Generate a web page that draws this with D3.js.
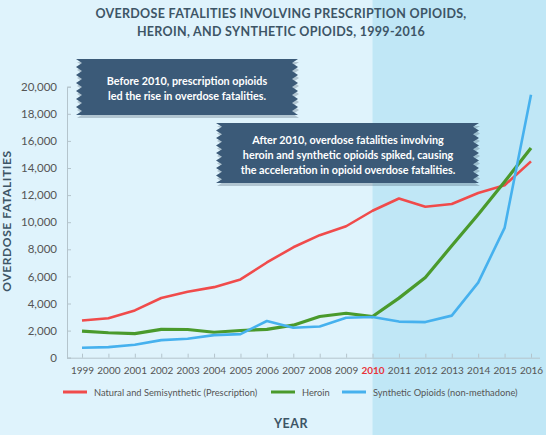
<!DOCTYPE html>
<html>
<head>
<meta charset="utf-8">
<script src="https://cdn.jsdelivr.net/npm/d3@7"></script>
<style>
  body { margin: 0; padding: 0; overflow: hidden; }
  text { font-family: Lato, "Open Sans", sans-serif; }
</style>
</head>
<body>
<div class="chart"></div>
<script>
var years = [1999, 2000, 2001, 2002, 2003, 2004, 2005, 2006, 2007, 2008,
  2009, 2010, 2011, 2012, 2013, 2014, 2015, 2016];
var prescription = [2749, 2917, 3491, 4408, 4867, 5208, 5780, 7027, 8151, 9042,
  9701, 10845, 11749, 11140, 11346, 12159, 12727, 14487];
var heroin = [1960, 1842, 1779, 2089, 2080, 1878, 2009, 2088, 2399, 3041,
  3278, 3036, 4397, 5925, 8257, 10574, 12989, 15469];
var synthetic = [730, 782, 957, 1295, 1400, 1664, 1742, 2707, 2213, 2306,
  2946, 3007, 2666, 2628, 3105, 5544, 9580, 19413];
var yTicks = [0, 2000, 4000, 6000, 8000, 10000, 12000, 14000, 16000, 18000, 20000];
var seriesNames = ["Natural and Semisynthetic (Prescription)", "Heroin", "Synthetic Opioids (non-methadone)"];
var seriesColors = ["#f04b4b", "#4a9a2c", "#46b1ee"];
var titleLines = ["OVERDOSE FATALITIES INVOLVING PRESCRIPTION OPIOIDS,", "HEROIN, AND SYNTHETIC OPIOIDS, 1999-2016"];
var note1 = ["Before 2010, prescription opioids", "led the rise in overdose fatalities."];
var note2 = ["After 2010, overdose fatalities involving", "heroin and synthetic opioids spiked, causing", "the acceleration in opioid overdose fatalities."];

var width = 546, height = 435;
var svg = d3.select(".chart").append("svg")
  .attr("width", width)
  .attr("height", height);

var x = d3.scaleLinear().domain([1999, 2016]).range([82, 531]);
var y = d3.scaleLinear().domain([0, 20000]).range([357.7, 86.7]);

// background + shaded period after 2010
svg.append("rect").attr("width", width).attr("height", height).attr("fill", "#dff3fc");
svg.append("rect")
  .attr("x", x(2010)).attr("y", 0)
  .attr("width", width - x(2010)).attr("height", height)
  .attr("fill", "#c0e7f6");

// title
svg.selectAll(".title").data(titleLines).enter().append("text")
  .attr("class", "title")
  .attr("x", 281).attr("y", function(d, i) { return 18 + i * 18; })
  .attr("text-anchor", "middle")
  .attr("fill", "#3d5566")
  .attr("font-size", 12.5)
  .attr("font-weight", "bold")
  .attr("letter-spacing", 0.3)
  .text(function(d) { return d; });

// axes
var yAxis = svg.append("g")
  .attr("transform", "translate(67,0)")
  .call(d3.axisLeft(y).tickValues(yTicks).tickSize(-4).tickPadding(10).tickFormat(d3.format(",")));
var xAxis = svg.append("g")
  .attr("transform", "translate(0," + y(0) + ")")
  .call(d3.axisBottom(x).tickValues(years).tickSize(-4).tickPadding(9).tickFormat(d3.format("d")));

[yAxis, xAxis].forEach(function(a) {
  a.select(".domain").attr("stroke", "#b4c4cc");
  a.selectAll(".tick line").attr("stroke", "#b4c4cc");
  a.selectAll(".tick text").attr("fill", "#555").attr("font-family", "Lato, sans-serif");
});
yAxis.selectAll(".tick text").attr("font-size", 11.5);
xAxis.selectAll(".tick text").attr("font-size", 10);
xAxis.select(".domain").attr("d", "M67,0.5H540");
xAxis.selectAll(".tick text")
  .filter(function(d) { return d === 2010; })
  .attr("fill", "#e8333a").attr("font-weight", "bold");

// axis titles
svg.append("text")
  .attr("transform", "translate(11,221) rotate(-90)")
  .attr("text-anchor", "middle")
  .attr("fill", "#3d5566")
  .attr("font-size", 12)
  .attr("font-weight", "bold")
  .attr("letter-spacing", 0.6)
  .text("OVERDOSE FATALITIES");
svg.append("text")
  .attr("x", 291).attr("y", 428)
  .attr("text-anchor", "middle")
  .attr("fill", "#3d5566")
  .attr("font-size", 12.5)
  .attr("font-weight", "bold")
  .attr("letter-spacing", 0.5)
  .text("YEAR");

// lines
var line = d3.line()
  .x(function(d, i) { return x(years[i]); })
  .y(function(d) { return y(d); });
[prescription, heroin, synthetic].forEach(function(s, i) {
  svg.append("path")
    .attr("d", line(s))
    .attr("fill", "none")
    .attr("stroke", seriesColors[i])
    .attr("stroke-width", i === 1 ? 3.2 : 2.6)
    .attr("stroke-linejoin", "round");
});

// legend
var legendX = [63, 271, 342];
seriesNames.forEach(function(name, i) {
  svg.append("line")
    .attr("x1", legendX[i]).attr("x2", legendX[i] + 24)
    .attr("y1", 392).attr("y2", 392)
    .attr("stroke", seriesColors[i]).attr("stroke-width", 3);
  svg.append("text")
    .attr("x", legendX[i] + 31).attr("y", 395.5)
    .attr("fill", "#555")
    .attr("font-size", 9.3)
    .text(name);
});

// notched banner callouts
function banner(x0, y0, w, h, lines, cx, firstY) {
  var teeth = Math.round(h / 8), th = h / teeth, depth = 6;
  var pts = [[x0, y0], [x0 + w, y0]];
  for (var k = 0; k < teeth; k++) {
    pts.push([x0 + w - depth, y0 + k * th + th / 2]);
    pts.push([x0 + w, y0 + (k + 1) * th]);
  }
  pts.push([x0, y0 + h]);
  for (var k = teeth - 1; k >= 0; k--) {
    pts.push([x0 + depth, y0 + k * th + th / 2]);
    pts.push([x0, y0 + k * th]);
  }
  svg.append("polygon")
    .attr("points", pts.map(function(p) { return [p[0] + 1, p[1] + 3]; }).join(" "))
    .attr("fill", "rgba(40,60,80,0.25)");
  svg.append("polygon")
    .attr("points", pts.join(" "))
    .attr("fill", "#3b5a78");
  lines.forEach(function(t, i) {
    svg.append("text")
      .attr("x", cx).attr("y", firstY + i * 15)
      .attr("text-anchor", "middle")
      .attr("fill", "#fff")
      .attr("font-size", 10.8)
      .attr("font-weight", "bold")
      .text(t);
  });
}
banner(76, 59, 222, 56, note1, 187, 85);
banner(216, 123, 263, 60, note2, 348, 144);
</script>
</body>
</html>
